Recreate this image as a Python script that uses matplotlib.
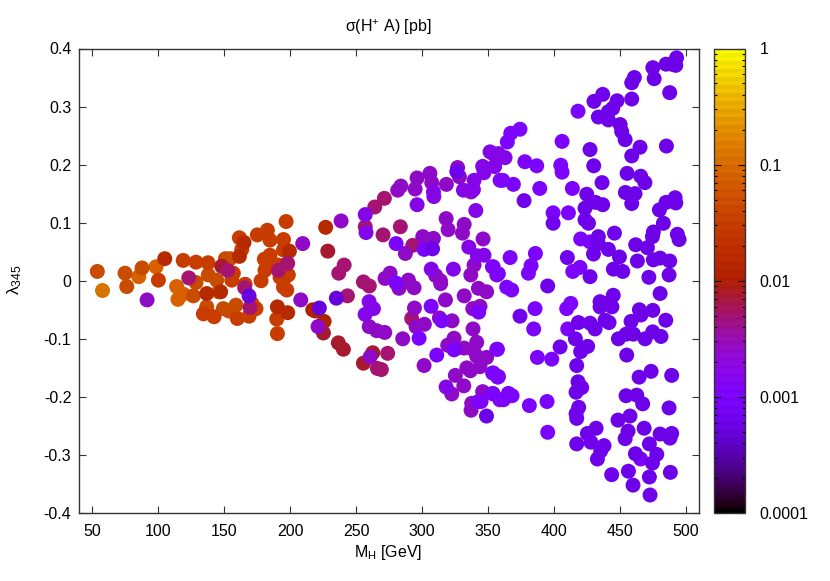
"""sigma(H+ A) scan over M_H and lambda_345, gnuplot style palette."""
import numpy as np
import matplotlib
matplotlib.use("Agg")
import matplotlib.pyplot as plt
from matplotlib.colors import ListedColormap, LogNorm

plt.rcParams["font.family"] = ["Liberation Sans", "DejaVu Sans"]
plt.rcParams["mathtext.default"] = "regular"
plt.rcParams["font.size"] = 11.5

# points, grouped by colour level [pb], drawn from large to small
SIGMA = [0.13, 0.075, 0.05, 0.03, 0.017, 0.012, 0.0076, 0.005, 0.0024, 0.0015,
         0.0009, 0.0007, 0.00055, 0.00047]

MH_0 = [57.5]
LAM_0 = [-0.016]

MH_1 = [85.3, 115, 119, 114, 98.4, 145.7]
LAM_1 = [0.007, -0.032, -0.023, -0.010, 0.024, -0.019]

MH_2 = [53.9, 74.9, 76.2, 87.8, 128.7, 126.7, 136.8, 138, 144.4, 153.5, 159, 149.4, 151, 154.5]
LAM_2 = [0.016, 0.013, -0.010, 0.022, -0.003, -0.026, -0.045, 0.010, 0.001, -0.052, -0.042,
         -0.048, 0.038, 0.038]

MH_3 = [100.2, 119, 128.7, 134.3, 137.8, 142.4, 155.8, 157, 160, 161.6, 163.4, 165.9, 171,
        174.2, 168.9, 175.2, 182.8, 184.8, 178, 180.5, 184.8, 181, 184.8, 195, 195, 198.7,
        195, 195, 197.5, 189.9, 190.4, 197, 192.4, 191]
LAM_3 = [0.001, 0.035, 0.032, -0.057, 0.031, -0.062, 0.001, 0.013, -0.065, 0.074, 0.054,
         -0.006, -0.039, -0.048, -0.061, 0.079, 0.087, 0.070, 0.000, 0.037, 0.044, 0.018,
         0.027, 0.071, 0.053, 0.010, 0.001, -0.011, -0.016, -0.066, -0.091, 0.102, 0.006, 0.027]

MH_4 = [105, 136.8, 147.4, 165.1, 161.6, 190.4, 198.2, 199.5, 227]
LAM_4 = [0.038, -0.022, -0.019, 0.066, 0.042, -0.045, -0.055, 0.051, 0.092]

MH_5 = [219, 217.2, 225.8]
LAM_5 = [-0.052, -0.050, -0.070]

MH_6 = [148.2, 228.6, 236.6, 240.4, 255.6, 262.7, 225.3]
LAM_6 = [0.025, 0.051, -0.107, -0.118, -0.142, -0.124, -0.090]

MH_7 = [123.2, 152.7, 191.1, 198.2, 241, 236.9, 243.5, 264.2, 271.5, 283.6, 270.5, 293,
        255.6, 260.1, 274, 266.2, 269.2, 292.2, 165.6, 169.7, 257]
LAM_7 = [0.005, 0.018, 0.018, 0.030, 0.027, 0.013, -0.026, 0.127, 0.142, 0.093, 0.079,
         0.061, -0.002, -0.009, -0.125, -0.151, -0.153, -0.065, -0.012, -0.046, 0.093]

MH_8 = [209.6, 208.1, 91.6, 238.7, 221.2, 260.7, 281.6, 284, 296.3, 294.8, 306, 307.4, 318.5,
        327, 328.4, 337.2, 318.3, 319.8, 332, 330.7, 346.3, 300.6, 308.7, 287.4, 275.8, 272,
        289.7, 339.5, 337, 314, 310.4, 260, 265.7, 271.8, 285.4, 294.3, 301.8, 295.5, 289.7,
        294, 282.6, 314.2, 317.8, 332, 342.8, 349, 338.5, 344, 313.2, 322.8, 338.7, 301.6,
        319.5, 324.3, 326.4, 332, 341.5, 339, 341.5, 349, 334, 344, 336.7, 325.3, 331.7,
        322.6, 337.7, 337.2, 346]
LAM_8 = [0.064, -0.033, -0.033, 0.103, -0.079, -0.131, 0.156, 0.163, 0.177, 0.158, 0.185,
         0.169, 0.166, 0.195, 0.179, 0.153, 0.107, 0.088, 0.097, 0.082, 0.072, 0.076, 0.073,
         0.047, 0.013, 0.004, 0.001, 0.027, 0.010, 0.000, 0.009, -0.079, -0.086, -0.089,
         -0.100, -0.047, -0.075, -0.079, -0.002, -0.012, -0.013, -0.005, -0.033, -0.026,
         -0.013, -0.019, -0.048, -0.044, -0.064, -0.069, -0.083, -0.146, -0.111, -0.099,
         -0.116, -0.116, -0.106, -0.119, -0.130, -0.132, -0.150, -0.148, -0.155, -0.163,
         -0.181, -0.195, -0.211, -0.223, -0.191]

MH_9 = [257, 257.6, 296.3, 308.7, 309, 339.5, 331.4, 339, 346, 347, 340.8, 335.5, 342, 347,
        307, 323.8, 353.4, 356.7, 259.9, 263.2, 256.9, 318.3, 344.8, 353.6, 358, 353.6, 359,
        351.6, 355, 358, 359.2, 354, 363, 355]
LAM_9 = [0.114, 0.083, 0.131, 0.153, 0.145, 0.173, 0.156, 0.157, 0.197, 0.186, 0.121, 0.058,
         0.043, 0.044, 0.020, 0.020, 0.024, 0.010, -0.036, -0.048, -0.058, -0.183, -0.208,
         -0.159, -0.165, -0.194, -0.205, 0.222, 0.197, 0.219, 0.173, 0.219, 0.212, 0.197]

MH_10 = [280.4, 301.6, 280.4, 297.8, 306.9, 315, 343, 311.2, 324.3, 357.2, 342.8, 367.3, 374.3,
         364.7, 361.2, 369.3, 378, 387, 389.3, 406.2, 405.2, 406.2, 414, 411, 399.4, 418.3,
         386, 366.8, 382.7, 380.7, 364.2, 368, 385.7, 384.7, 356.7, 354.1, 357.4, 354, 365.5,
         368.3, 381.4, 394.8, 395.3, 361.7, 398.4, 387.5, 409.7, 412.8, 410.5, 419.8, 414.3,
         420.3, 427.4, 465.8, 354, 357.9]
LAM_10 = [0.064, 0.054, -0.004, -0.099, -0.044, -0.069, -0.054, -0.128, -0.119, -0.118, -0.208,
          0.254, 0.261, 0.239, 0.173, 0.166, 0.205, 0.198, 0.159, 0.240, 0.199, 0.187, 0.159,
          0.117, 0.117, 0.292, 0.047, 0.040, 0.026, 0.013, -0.011, -0.016, -0.048, -0.083,
          -0.118, -0.159, -0.166, -0.195, -0.194, -0.198, -0.215, -0.208, -0.261, -0.205,
          -0.135, -0.132, -0.048, -0.039, -0.083, 0.023, 0.016, 0.072, 0.067, -0.307, 0.024,
          0.012]

MH_11 = [308, 377.4, 427.4, 430.2, 424.9, 431.5, 437, 423.6, 399.4, 426.2, 423.6, 433.7, 430,
         433.7, 441.3, 410.2, 445.9, 427.4, 404.7, 425.6, 420.3, 416.3, 418.6, 427.4, 431.2,
         438.8, 441.8, 435, 445, 444, 435, 440, 374.3, 417.3, 418.8, 416.8, 417.3, 421.1,
         416.8, 425.4, 428, 417.3, 438, 435.5, 433, 443.8, 395.3, 436.5, 430.4, 437,
         441.3, 433.7, 441.3, 444.6, 447.9, 326.4]
LAM_11 = [0.055, 0.138, 0.226, 0.198, 0.149, 0.135, 0.131, 0.125, 0.099, 0.099, 0.105, 0.076,
          0.046, 0.064, 0.054, 0.040, 0.082, 0.007, -0.114, -0.113, -0.122, -0.100, -0.072,
          -0.073, -0.083, -0.068, -0.072, -0.036, -0.025, -0.045, -0.045, -0.039, -0.061,
          -0.146, -0.218, -0.229, -0.237, -0.184, -0.192, -0.263, -0.278, -0.281, -0.284,
          -0.293, -0.307, -0.334, -0.009, 0.169, 0.309, 0.321, 0.277, 0.282, 0.291,
          0.297, 0.310, 0.188]

MH_12 = [493, 485, 489.3, 492.4, 475, 476, 461, 459, 487.8, 459, 450.2, 451.4, 454, 465.3, 459,
         485.3, 455.5, 465.8, 469, 454.2, 461.5, 459, 485, 491.9, 492.4, 480, 483, 475.4,
         474.7, 493.6, 494.9, 462, 470.9, 449.7, 463.3, 475.4, 480.5, 487.8, 445.1, 452.2,
         472, 487.3, 480.5, 464.8, 466, 475, 484.8, 458.5, 448.9, 454.7, 460.3, 469.1, 474.9,
         481.2, 455.2, 473.7, 464.6, 489.3, 418.3, 454.7, 462.8, 467.3, 487.3, 457.7, 448.6,
         432, 456.2, 454, 468.4, 480.5, 489.3, 488, 472.4, 461.8, 478, 474.7, 472.4, 488.3,
         456.5, 460, 472.9, 348.9]
LAM_12 = [0.384, 0.373, 0.373, 0.371, 0.367, 0.348, 0.350, 0.341, 0.324, 0.313, 0.269, 0.257,
          0.243, 0.230, 0.215, 0.232, 0.185, 0.180, 0.169, 0.152, 0.150, 0.133, 0.135, 0.143,
          0.134, 0.122, 0.099, 0.084, 0.076, 0.080, 0.071, 0.062, 0.057, 0.041, 0.034, 0.036,
          0.039, 0.034, 0.020, 0.016, 0.006, 0.010, -0.022, -0.050, -0.059, -0.051, -0.068,
          -0.070, -0.100, -0.092, -0.092, -0.100, -0.088, -0.096, -0.128, -0.156, -0.166,
          -0.163, -0.174, -0.198, -0.197, -0.212, -0.219, -0.233, -0.240, -0.254, -0.259,
          -0.272, -0.254, -0.264, -0.263, -0.271, -0.281, -0.298, -0.299, -0.314, -0.338,
          -0.330, -0.328, -0.352, -0.369, -0.233]

MH_13 = [168.9, 222.2, 235.1]
LAM_13 = [-0.026, -0.047, -0.030]

MH = [MH_0, MH_1, MH_2, MH_3, MH_4, MH_5, MH_6, MH_7, MH_8, MH_9, MH_10, MH_11, MH_12, MH_13]
LAM = [LAM_0, LAM_1, LAM_2, LAM_3, LAM_4, LAM_5, LAM_6, LAM_7, LAM_8, LAM_9, LAM_10, LAM_11,
       LAM_12, LAM_13]

X_TICKS = [50, 100, 150, 200, 250, 300, 350, 400, 450, 500]
Y_TICKS = [-0.4, -0.3, -0.2, -0.1, 0, 0.1, 0.2, 0.3, 0.4]
Y_LABELS = ["-0.4", "-0.3", "-0.2", "-0.1", "0", "0.1", "0.2", "0.3", "0.4"]
CB_TICKS = [0.0001, 0.001, 0.01, 0.1, 1]
CB_LABELS = ["0.0001", "0.001", "0.01", "0.1", "1"]

GREY = "#333333"

# gnuplot default pm3d palette (rgbformulae 7,5,15), with its faint banding
t = np.linspace(0, 1, 116)
rgb = np.c_[np.sqrt(t), t**3, np.clip(np.sin(2 * np.pi * t), 0, 1)]
rgb[::2] *= 0.95
palette = ListedColormap(rgb)
norm = LogNorm(vmin=0.0001, vmax=1)

W, H = 830, 581
fig = plt.figure(figsize=(W / 100, H / 100), dpi=100)
ax = fig.add_axes([79 / W, 1 - 513 / H, 620 / W, 464.5 / H])
cax = fig.add_axes([714 / W, 1 - 513 / H, 31 / W, 464.5 / H])

for s, xs, ys in zip(SIGMA, MH, LAM):
    sc = ax.scatter(xs, ys, c=[s] * len(xs), s=116, cmap=palette, norm=norm,
                    linewidths=0, zorder=3)

ax.set_xlim(40, 510)
ax.set_ylim(-0.4, 0.4)
ax.set_xticks(X_TICKS)
ax.set_yticks(Y_TICKS)
ax.set_yticklabels(Y_LABELS)
ax.tick_params(direction="in", length=5, width=0.8, color=GREY, top=True, right=True,
               labelcolor="black", pad=8)
ax.tick_params(axis="y", pad=5.5)
for sp in ax.spines.values():
    sp.set_color(GREY)
    sp.set_linewidth(1.0)

fig.text(388.5 / W, 1 - 552 / H, "M$_{H}$ [GeV]", ha="center", va="center")
fig.text(15 / W, 1 - 280 / H, "λ$_{345}$", ha="center", va="center", rotation=90, fontsize=12.5)
fig.text(388.5 / W, 1 - 27 / H, "σ(H$^{+}$ A) [pb]", ha="center", va="center")

cb = fig.colorbar(sc, cax=cax)
cb.outline.set_edgecolor(GREY)
cb.outline.set_linewidth(1.0)
cb.set_ticks(CB_TICKS)
cb.set_ticklabels(CB_LABELS)
cax.tick_params(which="major", direction="in", length=5, width=0.8, color="black",
                left=True, right=True, pad=10.5)
cax.tick_params(which="minor", direction="in", length=2.5, width=0.8, color="black",
                left=True, right=True)

fig.savefig("out.png", dpi=100)
